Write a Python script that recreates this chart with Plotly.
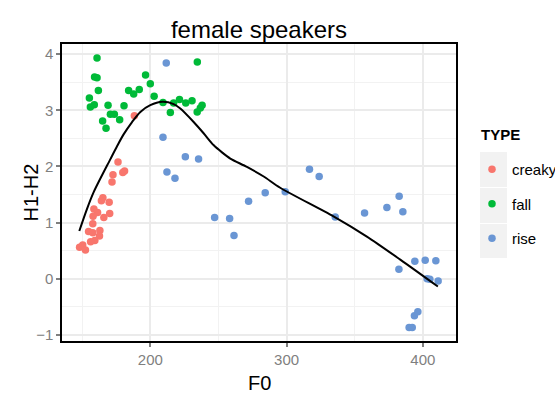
import plotly.graph_objects as go

# ---- data ----
creaky_f0 = [176.3, 181.1, 179.8, 172.6, 171.9, 165.2, 164.1, 169.8, 158.6, 161.3, 170.2, 165.9,
             158.0, 157.8, 154.7, 157.8, 163.0, 162.7, 159.3, 156.2, 148.1, 150.4, 152.4, 188.3]
creaky_h = [2.08, 1.92, 1.89, 1.85, 1.72, 1.44, 1.39, 1.36, 1.24, 1.18, 1.16, 1.09,
            1.11, 0.98, 0.84, 0.82, 0.86, 0.76, 0.68, 0.66, 0.56, 0.60, 0.51, 2.90]

fall_f0 = [160.9, 159.1, 160.9, 161.9, 155.3, 158.9, 156.0, 169.0, 180.7, 184.1, 187.8, 191.9,
           196.5, 200.0, 202.8, 170.7, 173.6, 165.0, 167.5, 177.5, 209.3, 214.7, 217.1, 221.4,
           226.0, 230.6, 234.5, 234.4, 236.7, 238.0]
fall_h = [3.93, 3.59, 3.58, 3.35, 3.22, 3.10, 3.06, 3.09, 3.08, 3.35, 3.29, 3.37,
          3.63, 3.47, 3.25, 2.93, 2.93, 2.81, 2.68, 2.83, 3.14, 2.96, 3.13, 3.19,
          3.13, 3.17, 3.86, 2.97, 3.04, 3.09]

rise_f0 = [211.7, 209.3, 225.7, 235.4, 212.2, 218.1, 247.2, 258.2, 261.4, 272.1, 284.3, 299.0,
           316.8, 323.9, 335.7, 357.2, 373.6, 382.6, 385.3, 382.4, 394.1, 401.7, 409.5, 403.1,
           405.1, 411.2, 393.8, 396.3, 389.9, 392.2]
rise_h = [3.84, 2.52, 2.17, 2.13, 1.90, 1.79, 1.09, 1.07, 0.77, 1.38, 1.53, 1.55,
          1.95, 1.82, 1.10, 1.17, 1.27, 1.47, 1.19, 0.17, 0.31, 0.33, 0.32, 0.00,
          -0.01, -0.04, -0.66, -0.59, -0.87, -0.87]

# smoothed fit curve
fit_f0 = [147.9, 153.5, 158.6, 170.7, 175.6, 180.4, 186.6, 192.7, 200.0, 208.8, 217.1, 222.0,
          231.8, 239.1, 246.4, 252.6, 258.7, 270.9, 283.2, 295.3, 334.4, 358.9, 383.4, 411.0]
fit_h = [0.85, 1.24, 1.55, 2.13, 2.36, 2.57, 2.79, 2.97, 3.09, 3.15, 3.11, 3.03,
         2.79, 2.59, 2.38, 2.25, 2.14, 1.99, 1.82, 1.62, 1.11, 0.75, 0.34, -0.14]

types = ["creaky", "fall", "rise"]
colors = ["#F8766D", "#00BA38", "#6A96D4"]
x_ticks = [200, 300, 400]
y_ticks = [-1, 0, 1, 2, 3, 4]

FONT = "Liberation Sans, Arial, sans-serif"

fig = go.Figure()
series = [(creaky_f0, creaky_h), (fall_f0, fall_h), (rise_f0, rise_h)]
for name, col, (xs, ys) in zip(types, colors, series):
    fig.add_trace(go.Scatter(x=xs, y=ys, mode="markers", name=name, legendgroup=name,
                             marker=dict(color=col, size=7.5, line=dict(width=0))))

fig.add_trace(go.Scatter(x=fit_f0, y=fit_h, mode="lines", showlegend=False,
                         line=dict(color="black", width=2, shape="spline", smoothing=0.8)))

L, R, T, B = 62, 99, 44, 55
W, H = 555, 396
pw, ph = W - L - R, H - T - B

def px2paper_x(px):
    return (px - L) / pw

def px2paper_y(py):
    return (H - B - py) / ph

# grey legend key backgrounds
for y0, y1 in [(152, 187), (188, 223), (224, 258)]:
    fig.add_shape(type="rect", xref="paper", yref="paper",
                  x0=px2paper_x(480), x1=px2paper_x(507),
                  y0=px2paper_y(y1), y1=px2paper_y(y0),
                  fillcolor="#F2F2F2", line=dict(width=0), layer="below")

# legend title
fig.add_annotation(text="<b>TYPE</b>", xref="paper", yref="paper",
                   x=px2paper_x(479), y=px2paper_y(134), xanchor="left", yanchor="middle",
                   showarrow=False, font=dict(family=FONT, size=15, color="black"))

# axis titles
fig.add_annotation(text="F0", xref="paper", yref="paper", x=0.5, y=px2paper_y(383),
                   xanchor="center", yanchor="middle", showarrow=False,
                   font=dict(family=FONT, size=20, color="black"))
fig.add_annotation(text="H1-H2", xref="paper", yref="paper", x=px2paper_x(30), y=0.5,
                   xanchor="center", yanchor="middle", showarrow=False, textangle=-90,
                   font=dict(family=FONT, size=20, color="black"))

axis_common = dict(
    showline=True, linecolor="black", linewidth=1.5, mirror=True,
    ticks="outside", ticklen=4, tickcolor="#7F7F7F", tickwidth=1.5,
    tickfont=dict(family=FONT, size=15, color="#7F7F7F"),
    showgrid=True, gridcolor="#EBEBEB", gridwidth=1.5, zeroline=False,
)

fig.update_layout(
    width=W, height=H,
    margin=dict(l=L, r=R, t=T, b=B, autoexpand=False),
    paper_bgcolor="white", plot_bgcolor="white",
    title=dict(text="female speakers", x=(L + pw / 2) / W, xanchor="center",
               y=1 - 30 / H, yanchor="middle",
               font=dict(family=FONT, size=24, color="black")),
    xaxis=dict(range=[135.2, 424.3], tickvals=x_ticks,
               minor=dict(dtick=50, tick0=0, showgrid=True, gridcolor="#F2F2F2", gridwidth=1, ticklen=0),
               **axis_common),
    yaxis=dict(range=[-1.11, 4.18], tickvals=y_ticks,
               minor=dict(dtick=0.5, tick0=0, showgrid=True, gridcolor="#F2F2F2", gridwidth=1, ticklen=0),
               **axis_common),
    legend=dict(
        x=px2paper_x(472), xanchor="left", y=px2paper_y(153), yanchor="top",
        font=dict(family=FONT, size=15, color="black"),
        tracegroupgap=12, itemwidth=30, bgcolor="rgba(0,0,0,0)",
    ),
    showlegend=True,
)

fig.write_html("out.html")
